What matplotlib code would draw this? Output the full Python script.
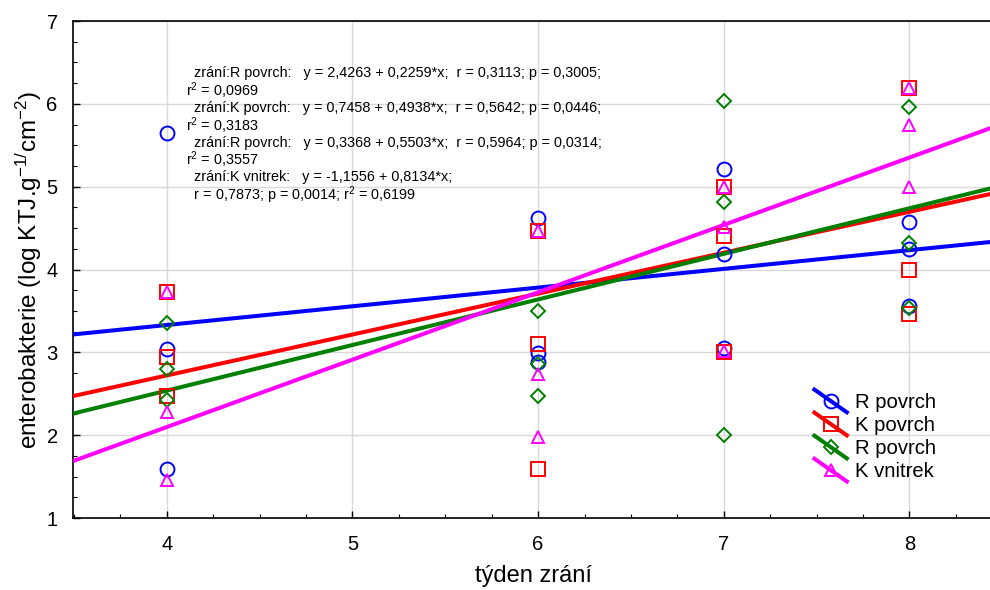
import matplotlib
matplotlib.use("Agg")
import matplotlib.pyplot as plt
import numpy as np
from matplotlib.lines import Line2D
from matplotlib.legend_handler import HandlerLine2D
from matplotlib.ticker import MultipleLocator

plt.rcParams['font.family'] = ['Liberation Sans', 'DejaVu Sans']
plt.rcParams['mathtext.fontset'] = 'custom'
plt.rcParams['mathtext.rm'] = 'Liberation Sans'
plt.rcParams['mathtext.it'] = 'Liberation Sans:italic'
plt.rcParams['mathtext.bf'] = 'Liberation Sans:bold'

# ---- data ----
weeks = [4, 4, 4, 6, 6, 6, 7, 7, 7, 8, 8, 8]
r_povrch = [5.65, 3.04, 1.59, 4.62, 2.99, 2.88, 5.21, 4.19, 3.05, 4.57, 4.25, 3.56]
k_povrch = [3.73, 2.94, 2.47, 4.47, 3.10, 1.59, 5.00, 4.41, 3.00, 6.19, 4.00, 3.46]
r_povrch2 = [3.36, 2.80, 2.42, 3.50, 2.86, 2.47, 6.03, 4.81, 2.00, 5.96, 4.32, 3.53]
k_vnitrek = [3.73, 2.28, 1.46, 4.47, 2.74, 1.98, 5.00, 4.51, 3.02, 6.19, 5.74, 4.99]

series_labels = ["R povrch", "K povrch", "R povrch", "K vnitrek"]
series_values = [r_povrch, k_povrch, r_povrch2, k_vnitrek]
intercepts = [2.4263, 0.7458, 0.3368, -1.1556]
slopes = [0.2259, 0.4938, 0.5503, 0.8134]

annotation_lines = [
    " zrání:R povrch:   y = 2,4263 + 0,2259*x;  r = 0,3113; p = 0,3005;",
    "r$^2$ = 0,0969",
    " zrání:K povrch:   y = 0,7458 + 0,4938*x;  r = 0,5642; p = 0,0446;",
    "r$^2$ = 0,3183",
    " zrání:R povrch:   y = 0,3368 + 0,5503*x;  r = 0,5964; p = 0,0314;",
    "r$^2$ = 0,3557",
    " zrání:K vnitrek:   y = -1,1556 + 0,8134*x;",
    " r = 0,7873; p = 0,0014; r$^2$ = 0,6199",
]

xticks = [4, 5, 6, 7, 8]
yticks = [1, 2, 3, 4, 5, 6, 7]

# ---- styles ----
colors = ['#0000ff', '#ff0000', '#008000', '#ff00ff']
markers = ['o', 's', 'D', '^']
msizes = [10, 9.5, 7, 9]

W, H = 990, 590
fig = plt.figure(figsize=(W / 100, H / 100), dpi=100)
ax = fig.add_axes([73 / W, (H - 518) / H, (W - 73) / W + 0.003, (518 - 21) / H])

xlim = (3.495, 8.45)
ax.set_xlim(*xlim)
ax.set_ylim(1, 7)

ax.grid(True, color='#d9d9d9', lw=1.0, zorder=0)
ax.set_axisbelow(True)

xs = np.array(xlim)
for a, b, c in zip(intercepts, slopes, colors):
    ax.plot(xs, a + b * xs, color=c, lw=2.9, zorder=3, solid_capstyle='butt')

for vals, c, m, ms in zip(series_values, colors, markers, msizes):
    ax.plot(weeks, vals, linestyle='none', marker=m, markersize=ms,
            markerfacecolor='none', markeredgecolor=c, markeredgewidth=1.4, zorder=4)

ax.set_xticks(xticks)
ax.set_yticks(yticks)
ax.xaxis.set_minor_locator(MultipleLocator(0.25))
ax.yaxis.set_minor_locator(MultipleLocator(0.25))
ax.tick_params(which='both', direction='in', top=False, right=False)
ax.tick_params(which='major', length=5, width=1, labelsize=14.5)
ax.tick_params(axis='x', which='major', pad=12)
ax.tick_params(axis='y', which='major', pad=11)
ax.tick_params(which='minor', length=3, width=0.8)
for s in ['left', 'bottom', 'top']:
    ax.spines[s].set_linewidth(1.2)
ax.spines['right'].set_visible(False)

ax.set_xlabel("týden zrání", fontsize=17, labelpad=8.5)
ax.set_ylabel("enterobakterie (log KTJ.g$^{-1/}$cm$^{-2}$)", fontsize=17.5, labelpad=2)


class HandlerDiag(HandlerLine2D):
    def create_artists(self, legend, orig_handle, xdescent, ydescent,
                       width, height, fontsize, trans):
        x0, x1 = -xdescent, -xdescent + width
        y0, y1 = -ydescent + height * 1.3, -ydescent - height * 0.3
        line = Line2D([x0, x1], [y0, y1])
        self.update_prop(line, orig_handle, legend)
        line.set_marker('None')
        line.set_linestyle('-')
        line.set_transform(trans)
        mk = Line2D([(x0 + x1) / 2], [(y0 + y1) / 2])
        self.update_prop(mk, orig_handle, legend)
        mk.set_linestyle('None')
        mk.set_transform(trans)
        return [line, mk]


handles = [Line2D([], [], color=c, lw=2.9, marker=m, markersize=ms,
                  markerfacecolor='none', markeredgecolor=c, markeredgewidth=1.4)
           for c, m, ms in zip(colors, markers, msizes)]
leg = ax.legend(handles, series_labels, loc='upper left',
                bbox_to_anchor=((812 - 73) / (W - 73), (518 - 393) / (518 - 21)),
                frameon=False, fontsize=14.6, handlelength=1.6, handletextpad=0.4,
                labelspacing=0.2, borderpad=0, borderaxespad=0,
                handler_map={Line2D: HandlerDiag()})

y_pos = [73, 91, 108, 126, 143, 160, 177, 195]
x_pos = [190, 186, 190, 186, 190, 186, 190, 190]
for t, xp, yp in zip(annotation_lines, x_pos, y_pos):
    fig.text(xp / W, 1 - yp / H, t, fontsize=10.4, va='center', ha='left')

fig.savefig("out.png", dpi=100)
